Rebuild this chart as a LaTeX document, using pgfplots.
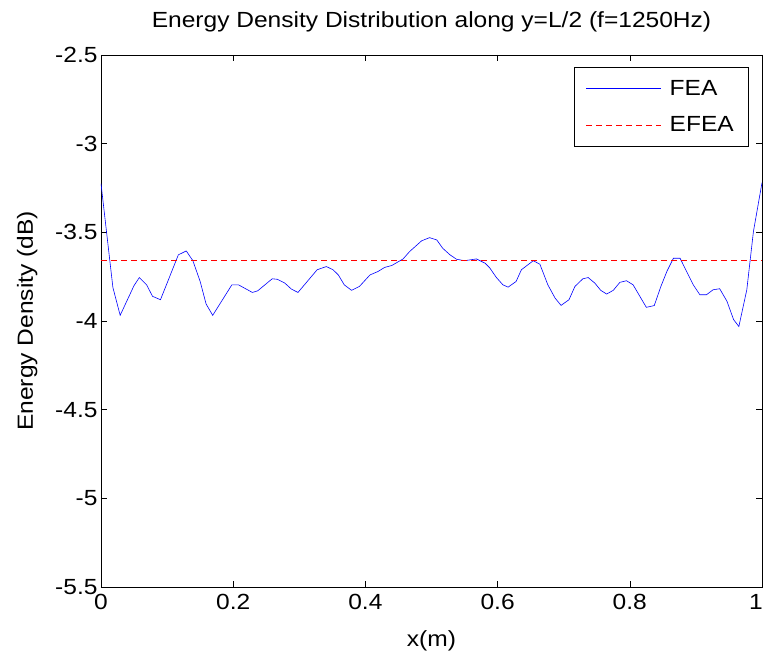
\documentclass[border=0pt]{standalone}
\usepackage{fontspec}
\setmainfont[FakeStretch=1.12]{Liberation Sans}
\usepackage{pgfplots}
\pgfplotsset{compat=1.18}

\begin{document}
\begin{tikzpicture}
\begin{axis}[
  scale only axis,
  width=661bp, height=532bp,
  xmin=0, xmax=1, ymin=-5.5, ymax=-2.5,
  xtick={0,0.2,0.4,0.6,0.8}, ytick={-5.5,-5,...,-2.5},
  xticklabels={0,0.2,0.4,0.6,0.8},
  extra x ticks={1}, extra x tick labels={1},
  extra x tick style={xticklabel style={xshift=-6bp}},
  yticklabels={-5.5,-5,-4.5,-4,-3.5,-3,-2.5},
  tick align=inside, major tick length=6bp,
  tick style={black, line width=0.5pt},
  axis line style={black, line width=0.6pt},
  every tick label/.append style={font=\fontsize{22}{25}\selectfont},
  label style={font=\fontsize{22}{25}\selectfont},
  title style={font=\fontsize{22}{25}\selectfont,
    at={([yshift=22bp]axis description cs:0.5,1)}, anchor=base},
  xticklabel style={yshift=-4bp},
  xlabel style={at={([yshift=-59bp]axis description cs:0.5,0)}, anchor=base},
  ylabel style={at={([xshift=-68bp]axis description cs:0,0.5)}, anchor=base},
  title={Energy Density Distribution along y=L/2 (f=1250Hz)},
  xlabel={x(m)}, ylabel={Energy Density (dB)},
  legend style={at={(0.9788,0.9774)}, anchor=north east, draw=black,
    font=\fontsize{22}{25}\selectfont, row sep=16bp, column sep=6bp,
    inner xsep=12bp, inner ysep=11bp},
  legend cell align=left,
  legend image code/.code={\draw[#1] (0bp,0bp) -- (75bp,0bp);},
]
\addplot[blue, line width=0.6pt] coordinates {
(0,-3.225) (0.018,-3.811) (0.029,-3.968) (0.050,-3.80) (0.058,-3.755)
(0.069,-3.796) (0.078,-3.861) (0.090,-3.88) (0.117,-3.627) (0.129,-3.605)
(0.139,-3.66) (0.150,-3.777) (0.159,-3.904) (0.169,-3.968) (0.198,-3.796)
(0.208,-3.796) (0.229,-3.839) (0.237,-3.83) (0.259,-3.762) (0.267,-3.765)
(0.278,-3.786) (0.288,-3.82) (0.298,-3.839) (0.327,-3.711) (0.341,-3.693)
(0.351,-3.711) (0.359,-3.74) (0.368,-3.796) (0.379,-3.827) (0.391,-3.805)
(0.407,-3.74) (0.419,-3.721) (0.429,-3.698) (0.440,-3.687) (0.457,-3.65)
(0.467,-3.608) (0.485,-3.548) (0.497,-3.53) (0.508,-3.543) (0.517,-3.59)
(0.528,-3.627) (0.538,-3.652) (0.550,-3.66) (0.568,-3.65) (0.581,-3.674)
(0.588,-3.70) (0.598,-3.754) (0.608,-3.796) (0.616,-3.809) (0.628,-3.777)
(0.636,-3.711) (0.654,-3.66) (0.664,-3.68) (0.676,-3.796) (0.687,-3.871)
(0.696,-3.912) (0.708,-3.88) (0.717,-3.805) (0.729,-3.762) (0.737,-3.755)
(0.747,-3.786) (0.756,-3.827) (0.765,-3.848) (0.775,-3.827) (0.785,-3.782)
(0.795,-3.773) (0.805,-3.796) (0.825,-3.923) (0.837,-3.913) (0.847,-3.805)
(0.856,-3.721) (0.866,-3.646) (0.876,-3.646) (0.886,-3.721) (0.896,-3.796)
(0.906,-3.852) (0.916,-3.852) (0.926,-3.824) (0.936,-3.818) (0.947,-3.889)
(0.957,-3.992) (0.965,-4.031) (0.977,-3.824) (0.987,-3.496) (1.0,-3.22)
};
\addlegendentry{FEA}
\addplot[red, line width=0.6pt, dash pattern=on 6bp off 4bp] coordinates {(0,-3.66) (1,-3.66)};
\addlegendentry{EFEA}
\end{axis}
\pgfresetboundingbox
\path (current axis.south west) ++(-101bp,-69bp) rectangle (current axis.north east);
\path (current axis.north east) ++(5bp,55bp);
\end{tikzpicture}
\end{document}
